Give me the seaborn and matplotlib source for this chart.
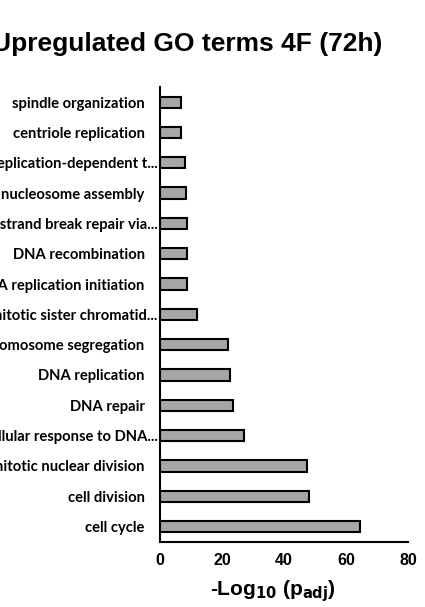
import matplotlib
matplotlib.use("Agg")
import matplotlib.pyplot as plt
import matplotlib.transforms as mtransforms
import seaborn as sns
import pandas as pd

# GO terms (top to bottom) and their -log10 adjusted p-values
terms = [
    "spindle organization",
    "centriole replication",
    "DNA replication-dependent t...",
    "nucleosome assembly",
    "double-strand break repair via...",
    "DNA recombination",
    "DNA replication initiation",
    "mitotic sister chromatid...",
    "chromosome segregation",
    "DNA replication",
    "DNA repair",
    "cellular response to DNA...",
    "mitotic nuclear division",
    "cell division",
    "cell cycle",
]
neg_log_padj = [6.8, 6.9, 8.2, 8.4, 8.6, 8.6, 8.8, 11.9, 21.8, 22.6, 23.7, 27.2, 47.5, 48.2, 64.6]
x_ticks = [0, 20, 40, 60, 80]

df = pd.DataFrame({"term": terms, "value": neg_log_padj})

sns.set_style("white")
plt.rcParams["text.color"] = "black"
plt.rcParams["axes.labelcolor"] = "black"
plt.rcParams["xtick.color"] = "black"
plt.rcParams["ytick.color"] = "black"

fig = plt.figure(figsize=(4.25, 6.07), dpi=100)
ax = fig.add_axes([0.3765, 0.1076, 0.5835, 0.7491])

sns.barplot(data=df, y="term", x="value", order=terms, orient="h",
            color="#a6a6a6", saturation=1, width=0.37,
            edgecolor="black", linewidth=1.5, ax=ax)

ax.set_xlim(0, 80)
ax.set_ylim(14.5, -0.5)
ax.set_xticks(x_ticks)
ax.set_xticklabels([str(t) for t in x_ticks], fontsize=11.5, fontweight="bold",
                   family="Liberation Sans", color="black")
ax.tick_params(axis="x", length=0, pad=8)
ax.tick_params(axis="y", length=0, pad=11)

# shortened terms (ending in an ellipsis) run up to the axis line
shift = mtransforms.ScaledTranslation(13 / 100, 0, fig.dpi_scale_trans)
for lab in ax.get_yticklabels():
    lab.set_fontfamily("Lato")
    lab.set_fontweight("bold")
    lab.set_fontsize(10.6)
    lab.set_color("black")
    if lab.get_text().endswith("..."):
        lab.set_transform(lab.get_transform() + shift)

ax.set_ylabel("")
ax.set_xlabel(r"-Log$_{\mathbf{10}}$ (p$_{\mathbf{adj}}$)", fontsize=15, fontweight="bold",
              family="Liberation Sans", color="black")
ax.xaxis.set_label_coords(0.456, -0.08)

for side in ["top", "right"]:
    ax.spines[side].set_visible(False)
for side in ["left", "bottom"]:
    ax.spines[side].set_color("black")
    ax.spines[side].set_linewidth(1.5)

fig.text(0.44, 0.927, "Upregulated GO terms 4F (72h)", ha="center", va="center",
         fontsize=19, fontweight="bold", family="Liberation Sans", color="black")

fig.savefig("out.png", dpi=100)
